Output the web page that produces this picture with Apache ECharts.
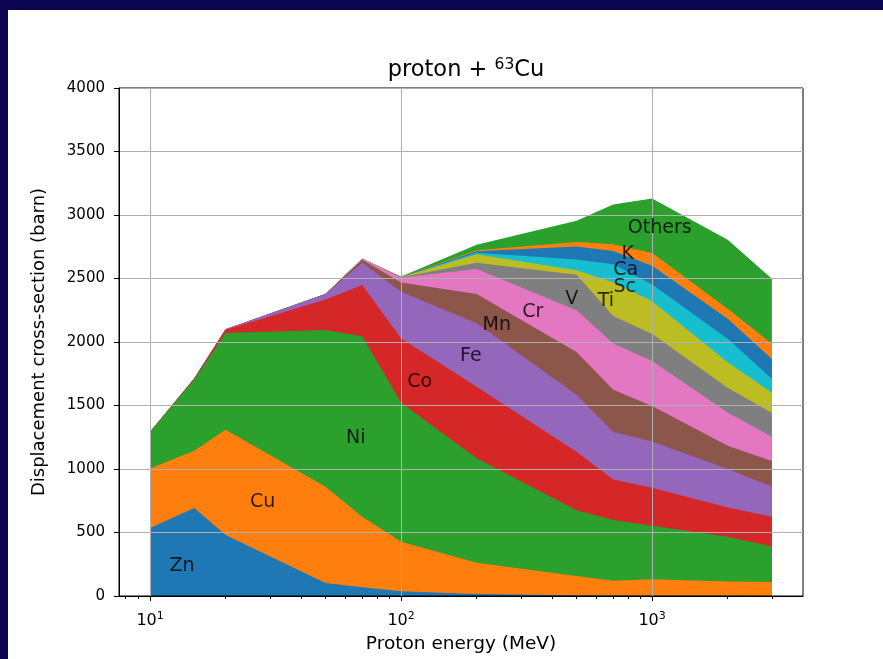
<!DOCTYPE html>
<html>
<head>
<meta charset="utf-8">
<script src="https://cdn.jsdelivr.net/npm/echarts@6/dist/echarts.min.js"></script>
<style>
  html, body { margin: 0; padding: 0; background: #ffffff; }
  #chart { width: 883px; height: 659px; }
</style>
</head>
<body>
<div id="chart"></div>
<script>
// Proton energies (MeV) at which the cross-sections are tabulated
const energies = [10, 15, 20, 50, 70, 100, 200, 500, 700, 1000, 2000, 3000];

// Displacement cross-section contribution of each residual nucleus (barn)
const zn     = [535, 693, 481, 102,   68,   37,  15,   5,   3,   2,   2,   1];
const cu     = [469, 450, 829, 758,  557,  390, 247, 152, 117, 130, 113, 109];
const ni     = [288, 562, 760, 1235, 1420, 1095, 823, 518, 479, 421, 351, 280];
const co     = [0,     5,  27, 240,  403,  508, 562, 460, 319, 299, 230, 235];
const fe     = [0,     2,   3,  41,  177,  365, 501, 450, 374, 365, 304, 235];
const mn     = [0,     0,   0,   1,   23,   73, 229, 337, 333, 280, 183, 203];
const cr     = [0,     0,   0,   1,    7,   39, 197, 328, 363, 353, 262, 191];
const v      = [0,     0,   0,   0,    0,    2,  51, 280, 217, 213, 195, 186];
const ti     = [0,     0,   0,   0,    0,    1,  65,  35, 265, 257, 201, 160];
const sc     = [0,     0,   0,   0,    0,    1,  13,  85, 142, 133, 185, 110];
const ca     = [0,     0,   0,   0,    0,    1,  11, 101, 104, 147, 157, 157];
const k      = [0,     0,   0,   0,    0,    1,   8,  36,  53, 100,  78, 119];
const others = [0,     0,   0,   0,    0,    3,  43, 168, 313, 429, 545, 513];

const layerNames = ['Zn', 'Cu', 'Ni', 'Co', 'Fe', 'Mn', 'Cr', 'V', 'Ti', 'Sc', 'Ca', 'K', 'Others'];
const layerValues = [zn, cu, ni, co, fe, mn, cr, v, ti, sc, ca, k, others];

// Where each element name is written, in (energy, barn) units
const labelEnergy = [13.4, 28.1, 66.0, 118.7, 189.5, 240.4, 334.6, 478.6, 654, 778, 785, 800, 1073];
const labelBarn   = [236,  738,  1240, 1687,  1891,  2134,  2236,  2338,  2322, 2432, 2565, 2691, 2895];

// Axis ticks
const yTicks = [0, 500, 1000, 1500, 2000, 2500, 3000, 3500, 4000];
const xMajorTicks = [10, 100, 1000];
const xMinorTicks = [8, 9, 20, 30, 40, 50, 60, 70, 80, 90, 200, 300, 400, 500, 600, 700, 800, 900, 2000, 3000];

const palette = ['#1f77b4', '#ff7f0e', '#2ca02c', '#d62728', '#9467bd', '#8c564b',
                 '#e377c2', '#7f7f7f', '#bcbd22', '#17becf', '#1f77b4', '#ff7f0e', '#2ca02c'];

const FONT = 'DejaVu Sans';
const xMin = 7.52, xMax = 3991;

const supLabel = function (val) {
  const p = Math.round(Math.log10(val));
  if (Math.abs(Math.pow(10, p) - val) > 1e-6) return '';
  return '{b|10}{s|' + p + '}';
};

// Running totals: the upper edge of each band of the stack
const cumulative = [];
layerValues.forEach(function (vals, i) {
  cumulative.push(vals.map(function (val, j) {
    return (i > 0 ? cumulative[i - 1][j] : 0) + val;
  }));
});

// Each band is filled from zero up to its running total; the bands are
// painted from the top of the stack downwards so lower ones cover the rest.
const areaSeries = layerNames.map(function (name, i) {
  return {
    name: name,
    type: 'line',
    z: 1,
    showSymbol: false,
    symbol: 'none',
    silent: true,
    lineStyle: { width: 0, color: palette[i] },
    itemStyle: { color: palette[i] },
    areaStyle: { color: palette[i], opacity: 1 },
    data: energies.map(function (e, j) { return [e, cumulative[i][j]]; })
  };
}).reverse();

const labelSeries = {
  type: 'scatter',
  xAxisIndex: 0,
  yAxisIndex: 0,
  z: 10,
  silent: true,
  symbolSize: 0,
  label: {
    show: true,
    position: 'inside',
    formatter: function (p) { return p.name; },
    color: '#000',
    fontFamily: FONT,
    fontSize: 19
  },
  data: layerNames.map(function (name, i) {
    return { name: name, value: [labelEnergy[i], labelBarn[i]] };
  })
};

const chart = echarts.init(document.getElementById('chart'), null, { renderer: 'canvas' });

chart.setOption({
  backgroundColor: '#ffffff',
  animation: false,
  title: {
    text: 'proton + {sup|63}Cu',
    left: 461,
    top: 52,
    textAlign: 'center',
    textStyle: {
      fontFamily: FONT,
      fontSize: 22.5,
      fontWeight: 'normal',
      color: '#000',
      rich: {
        sup: { fontFamily: FONT, fontSize: 15.5, verticalAlign: 'top', padding: [0, 0, 10, 0], color: '#000' }
      }
    }
  },
  graphic: [
    { type: 'rect', left: 0, top: 0, shape: { width: 883, height: 10 }, style: { fill: '#0b0450' }, z: 100 },
    { type: 'rect', left: 0, top: 0, shape: { width: 8, height: 659 }, style: { fill: '#0b0450' }, z: 100 }
  ],
  grid: {
    left: 119,
    top: 88,
    width: 684,
    height: 510,
    show: true,
    borderColor: '#000',
    borderWidth: 1,
    backgroundColor: 'transparent',
    z: 3
  },
  xAxis: [
    {
      type: 'log',
      logBase: 10,
      min: xMin,
      max: xMax,
      z: 3,
      name: 'Proton energy (MeV)',
      nameLocation: 'middle',
      nameGap: 39,
      nameTextStyle: { fontFamily: FONT, fontSize: 18.5, color: '#000' },
      axisLine: { show: true, lineStyle: { color: '#000', width: 1 } },
      axisTick: { show: true, customValues: xMajorTicks, length: 5, lineStyle: { color: '#000' } },
      axisLabel: {
        customValues: xMajorTicks,
        margin: 15,
        formatter: supLabel,
        rich: {
          b: { fontFamily: FONT, fontSize: 16, color: '#000' },
          s: { fontFamily: FONT, fontSize: 11, color: '#000', verticalAlign: 'top', padding: [0, 0, 9, 0] }
        }
      },
      splitLine: { show: true, lineStyle: { color: '#b0b0b0', width: 1 } },
      minorTick: { show: false }
    },
    {
      type: 'log',
      logBase: 10,
      min: xMin,
      max: xMax,
      position: 'bottom',
      z: 3,
      axisLine: { show: false },
      axisTick: { show: true, customValues: xMinorTicks, length: 3, lineStyle: { color: '#000' } },
      axisLabel: { show: false },
      splitLine: { show: false }
    }
  ],
  yAxis: {
    type: 'value',
    min: 0,
    max: 4000,
    interval: 500,
    z: 3,
    name: 'Displacement cross-section (barn)',
    nameLocation: 'middle',
    nameGap: 71,
    nameTextStyle: { fontFamily: FONT, fontSize: 18, color: '#000' },
    axisLine: { show: true, lineStyle: { color: '#000', width: 1 } },
    axisTick: { show: true, length: 5, lineStyle: { color: '#000' } },
    axisLabel: {
      margin: 14,
      fontFamily: FONT,
      fontSize: 15,
      color: '#000',
      formatter: function (val) { return yTicks.indexOf(val) >= 0 ? String(val) : ''; }
    },
    splitLine: { show: true, lineStyle: { color: '#b0b0b0', width: 1 } }
  },
  series: areaSeries.concat([labelSeries])
});
</script>
</body>
</html>
